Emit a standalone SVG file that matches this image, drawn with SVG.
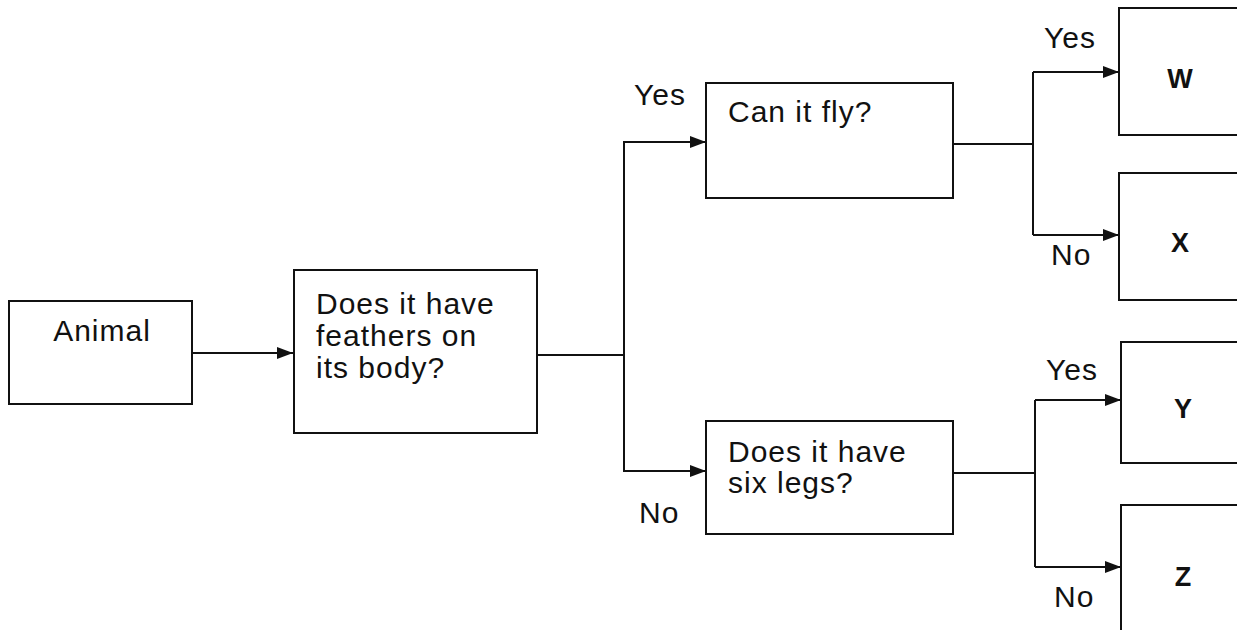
<svg xmlns="http://www.w3.org/2000/svg" width="1237" height="630" viewBox="0 0 1237 630">
<style>
.box{fill:#fff;stroke:#111;stroke-width:2}
.t{font-family:"Liberation Sans",Arial,sans-serif;font-size:30px;letter-spacing:1px;fill:#111}
.b{font-family:"Liberation Sans",Arial,sans-serif;font-size:27px;font-weight:bold;fill:#111}
.c{fill:none;stroke:#111;stroke-width:2}
</style>
<defs>
<marker id="ah" markerUnits="userSpaceOnUse" markerWidth="16" markerHeight="12" refX="16" refY="6" orient="auto">
<path d="M0,0 L16,6 L0,12 z" fill="#111"/>
</marker>
</defs>
<rect width="1237" height="630" fill="#fff"/>
<g id="connectors">
<line class="c" x1="192" y1="353" x2="293" y2="353" marker-end="url(#ah)"/>
<polyline class="c" points="537,355 624,355"/>
<polyline class="c" points="706,142 624,142 624,471 706,471" marker-end="url(#ah)"/>
<line class="c" x1="624" y1="142" x2="706" y2="142" marker-end="url(#ah)"/>
<polyline class="c" points="953,144 1033,144"/>
<polyline class="c" points="1033,72 1033,235"/>
<line class="c" x1="1033" y1="72" x2="1119" y2="72" marker-end="url(#ah)"/>
<line class="c" x1="1033" y1="235" x2="1119" y2="235" marker-end="url(#ah)"/>
<polyline class="c" points="953,473 1035,473"/>
<polyline class="c" points="1035,400 1035,567"/>
<line class="c" x1="1035" y1="400" x2="1121" y2="400" marker-end="url(#ah)"/>
<line class="c" x1="1035" y1="567" x2="1121" y2="567" marker-end="url(#ah)"/>
<text class="t" x="634" y="105">Yes</text>
<text class="t" x="639" y="523">No</text>
<text class="t" x="1044" y="48">Yes</text>
<text class="t" x="1051" y="265">No</text>
<text class="t" x="1046" y="380">Yes</text>
<text class="t" x="1054" y="607">No</text>
</g>
<g id="animal">
<rect class="box" x="9" y="301" width="183" height="103"/>
<text class="t" x="102" y="341" text-anchor="middle">Animal</text>
</g>
<g id="feathers">
<rect class="box" x="294" y="270" width="243" height="163"/>
<text class="t" x="316" y="314">Does it have</text>
<text class="t" x="316" y="346">feathers on</text>
<text class="t" x="316" y="378">its body?</text>
</g>
<g id="fly">
<rect class="box" x="706" y="83" width="247" height="115"/>
<text class="t" x="728" y="122">Can it fly?</text>
</g>
<g id="sixlegs">
<rect class="box" x="706" y="421" width="247" height="113"/>
<text class="t" x="728" y="462">Does it have</text>
<text class="t" x="728" y="493">six legs?</text>
</g>
<g id="W">
<rect class="box" x="1119" y="8" width="130" height="127"/>
<text class="b" x="1180" y="88" text-anchor="middle">W</text>
</g>
<g id="X">
<rect class="box" x="1119" y="173" width="130" height="127"/>
<text class="b" x="1180" y="252" text-anchor="middle">X</text>
</g>
<g id="Y">
<rect class="box" x="1121" y="342" width="130" height="121"/>
<text class="b" x="1183" y="418" text-anchor="middle">Y</text>
</g>
<g id="Z">
<rect class="box" x="1121" y="505" width="130" height="140"/>
<text class="b" x="1183" y="586" text-anchor="middle">Z</text>
</g>
</svg>
